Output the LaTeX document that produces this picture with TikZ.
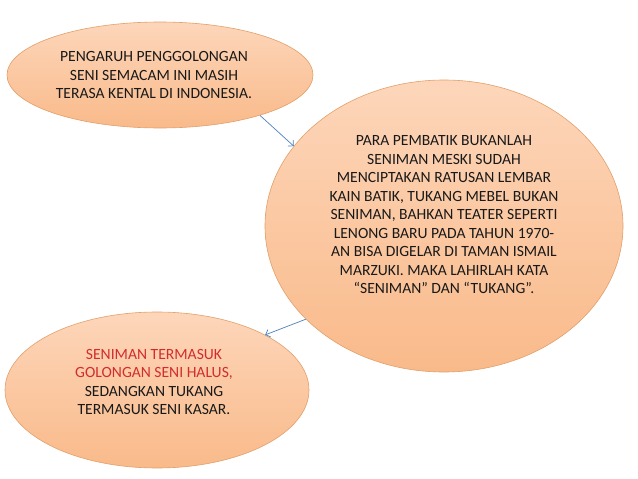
\documentclass[tikz,border=0pt]{standalone}
\usepackage{fontspec}
\setmainfont{Carlito}
\usetikzlibrary{shapes.geometric,arrows.meta}
\definecolor{peachtop}{RGB}{253,214,186}
\definecolor{peachbot}{RGB}{249,186,138}
\definecolor{peachedge}{RGB}{226,160,105}
\definecolor{txtdark}{RGB}{25,25,25}
\definecolor{txtred}{RGB}{210,45,45}
\definecolor{arrowblue}{RGB}{79,129,189}
\tikzset{
  bubble/.style={ellipse, inner sep=0pt, draw=peachedge, line width=0.6pt,
    top color=peachtop, bottom color=peachbot},
  bubbletext/.style={align=center, text=txtdark, inner sep=0pt,
    font=\fontsize{15.6}{18.5}\selectfont},
  link/.style={draw=arrowblue, line width=0.7pt, -{Straight Barb[length=4pt,width=8pt]}}
}
\begin{document}
\begin{tikzpicture}[x=1pt,y=-1pt]
\useasboundingbox (0,0) rectangle (638,479);
\fill[white] (0,0) rectangle (638,479);
\node[bubble, minimum width=306pt, minimum height=106pt] (e1) at (160,75) {};
\node[bubble, minimum width=358pt, minimum height=292pt] (e2) at (444,226) {};
\node[bubble, minimum width=304pt, minimum height=156pt] (e3) at (157,390) {};
\node[bubbletext] (t1) at (154,75) {PENGARUH PENGGOLONGAN\\SENI SEMACAM INI MASIH\\TERASA KENTAL DI INDONESIA.};
\node[bubbletext] (t2) at (444,215) {PARA PEMBATIK BUKANLAH\\SENIMAN MESKI SUDAH\\MENCIPTAKAN RATUSAN LEMBAR\\KAIN BATIK, TUKANG MEBEL BUKAN\\SENIMAN, BAHKAN TEATER SEPERTI\\LENONG BARU PADA TAHUN 1970-\\AN BISA DIGELAR DI TAMAN ISMAIL\\MARZUKI. MAKA LAHIRLAH KATA\\“SENIMAN” DAN “TUKANG”.};
\node[bubbletext] (t3) at (154,382) {\textcolor{txtred}{SENIMAN TERMASUK}\\\textcolor{txtred}{GOLONGAN SENI HALUS,}\\SEDANGKAN TUKANG\\TERMASUK SENI KASAR.};
\draw[link] (e1.-22.4) -- (e2.152.5);
\draw[link] (e2.214) -- (e3.27.2);
\end{tikzpicture}
\end{document}
